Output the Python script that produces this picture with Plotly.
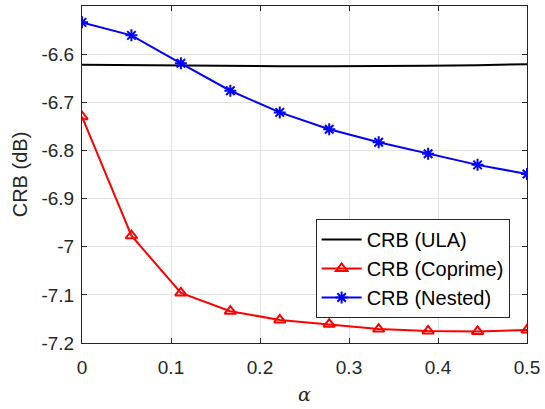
import numpy as np
import plotly.graph_objects as go

# alpha sweep: 0 .. 0.5 in steps of 1/18
alpha = [0, 1/18, 2/18, 3/18, 4/18, 5/18, 6/18, 7/18, 8/18, 9/18]

crb_ula = [-6.622, -6.623, -6.624, -6.625, -6.625, -6.625, -6.625, -6.624, -6.623, -6.621]
crb_coprime = [-6.730, -6.977, -7.096, -7.134, -7.152, -7.161, -7.171, -7.175, -7.176, -7.173]
crb_nested = [-6.534, -6.561, -6.619, -6.676, -6.721, -6.756, -6.783, -6.807, -6.830, -6.849]

x_ticks = [0, 0.1, 0.2, 0.3, 0.4, 0.5]
x_tick_text = ["0", "0.1", "0.2", "0.3", "0.4", "0.5"]
y_ticks = [-7.2, -7.1, -7.0, -6.9, -6.8, -6.7, -6.6]
y_tick_text = ["-7.2", "-7.1", "-7", "-6.9", "-6.8", "-6.7", "-6.6"]

FONT = "Liberation Sans, Arial, sans-serif"
AX = "#262626"

fig = go.Figure()
fig.add_trace(go.Scatter(
    x=alpha, y=crb_ula, mode="lines", name="CRB (ULA)",
    line=dict(color="black", width=2),
))
fig.add_trace(go.Scatter(
    x=alpha, y=crb_coprime, mode="lines+markers", name="CRB (Coprime)",
    line=dict(color="#ff0000", width=2),
    marker=dict(symbol="triangle-up-open", size=10, color="#ff0000",
                line=dict(width=2, color="#ff0000")),
))
fig.add_trace(go.Scatter(
    x=alpha, y=crb_nested, mode="lines+markers", name="CRB (Nested)",
    line=dict(color="#0000ff", width=2),
    marker=dict(symbol="asterisk-open", size=10, color="#0000ff",
                line=dict(width=2, color="#0000ff")),
))

axis_common = dict(
    showline=True, linecolor=AX, linewidth=1, mirror="ticks",
    ticks="inside", ticklen=5, tickcolor=AX, tickwidth=1,
    showgrid=True, gridcolor="#e3e3e3", gridwidth=1,
    zeroline=False,
    tickfont=dict(family=FONT, size=19, color=AX),
)

fig.update_xaxes(
    range=[0, 0.5], tickvals=x_ticks, ticktext=x_tick_text,
    ticklabelstandoff=7,
    title=dict(text="<i>α</i>", font=dict(family="DejaVu Serif, serif", size=19, color=AX), standoff=10),
    **axis_common,
)
fig.update_yaxes(
    range=[-7.2, -6.5], tickvals=y_ticks, ticktext=y_tick_text,
    ticklabelstandoff=3,
    title=dict(text="CRB (dB)", font=dict(family=FONT, size=20, color=AX), standoff=8),
    **axis_common,
)

fig.update_layout(
    width=545, height=409,
    margin=dict(l=82, r=16, t=5, b=66),
    paper_bgcolor="white", plot_bgcolor="white",
    showlegend=True,
    legend=dict(
        x=0.525, y=0.368, xanchor="left", yanchor="top",
        bgcolor="white", bordercolor=AX, borderwidth=1,
        font=dict(family=FONT, size=20, color="black"),
        tracegroupgap=0, itemwidth=40,
    ),
)

fig.write_html("out.html")
